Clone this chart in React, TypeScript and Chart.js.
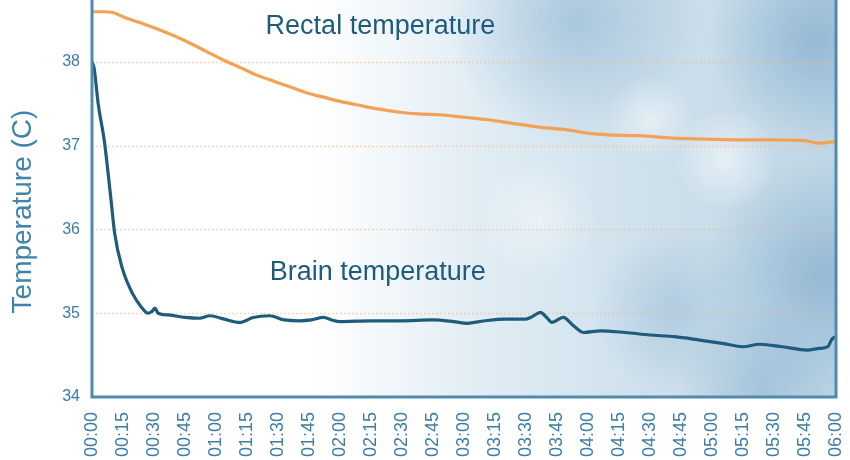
import React, { useEffect, useRef } from "react";
import { Chart, registerables } from "chart.js";

Chart.register(...registerables);

// X tick positions (minutes) and labels
const tickMinutes = [0, 15, 30, 45, 60, 75, 90, 105, 120, 135, 150, 165, 180, 195, 210, 225, 240, 255, 270, 285, 300, 315, 330, 345, 360];
const tickLabels = ["00:00", "00:15", "00:30", "00:45", "01:00", "01:15", "01:30", "01:45", "02:00", "02:15", "02:30", "02:45", "03:00", "03:15", "03:30", "03:45", "04:00", "04:15", "04:30", "04:45", "05:00", "05:15", "05:30", "05:45", "06:00"];
const yTicks = [34, 35, 36, 37, 38];
const yTitle = "Temperature (C)";

// Brain temperature series
const brainMinutes = [0, 1, 3, 6, 9, 11, 14.5, 19.5, 24, 27, 29, 30.5, 32, 37, 45, 52, 57, 64, 71.5, 78, 86, 93, 100.5, 106, 112, 116, 120, 135, 149, 165, 175, 181.5, 190, 200, 210, 213, 217, 220, 222.5, 228, 233, 238, 246, 258, 270, 282, 294, 305, 315, 323, 334, 346, 352, 356, 358, 360];
const brainTemps = [38.0, 37.93, 37.5, 37.05, 36.4, 35.95, 35.55, 35.24, 35.07, 35.0, 35.02, 35.06, 35.0, 34.98, 34.95, 34.94, 34.97, 34.93, 34.89, 34.95, 34.97, 34.92, 34.91, 34.92, 34.95, 34.92, 34.9, 34.91, 34.91, 34.92, 34.9, 34.88, 34.91, 34.93, 34.93, 34.96, 35.01, 34.95, 34.89, 34.95, 34.85, 34.77, 34.79, 34.77, 34.74, 34.72, 34.68, 34.64, 34.6, 34.63, 34.6, 34.56, 34.58, 34.6, 34.69, 34.72];

// Rectal temperature series
const rectalMinutes = [0, 6, 10, 15, 23, 31, 40, 47, 55, 63, 72, 80, 88, 96, 104, 112, 120, 128, 138, 149, 158, 168, 180, 192, 205, 217, 230, 240, 250, 265, 281, 297, 313, 330, 345, 352, 356, 360];
const rectalTemps = [38.6, 38.6, 38.59, 38.54, 38.47, 38.4, 38.31, 38.23, 38.13, 38.03, 37.93, 37.84, 37.77, 37.7, 37.63, 37.58, 37.53, 37.49, 37.44, 37.4, 37.38, 37.37, 37.34, 37.31, 37.26, 37.22, 37.19, 37.15, 37.13, 37.12, 37.09, 37.08, 37.07, 37.07, 37.06, 37.03, 37.04, 37.05];

// In-chart labels: [text, minute, temperature]
const seriesLabels: [string, number, number][] = [
  ["Rectal temperature", 84, 38.42],
  ["Brain temperature", 86, 35.48],
];

const AXIS_COLOR = "#4f8bb0";
const TICK_COLOR = "#3d7ca6";
const LABEL_COLOR = "#1f5b7d";
const FONT = "'Liberation Sans', Arial, Helvetica, sans-serif";

const decorPlugin = {
  id: "decor",
  beforeDatasetsDraw(chart: any) {
    const { ctx, chartArea: a, scales } = chart;
    const w = a.right - a.left;
    const h = a.bottom - a.top;
    ctx.save();
    ctx.beginPath();
    ctx.rect(a.left, a.top, w, h);
    ctx.clip();
    const lg = ctx.createLinearGradient(a.left, 0, a.right, 0);
    lg.addColorStop(0, "#ffffff");
    lg.addColorStop(0.3, "#ffffff");
    lg.addColorStop(0.5, "#e3eef5");
    lg.addColorStop(0.75, "#cee0ec");
    lg.addColorStop(1, "#bed6e5");
    ctx.fillStyle = lg;
    ctx.fillRect(a.left, a.top, w, h);
    const blobs: [number, number, number, string][] = [
      [0.65, 0.05, 0.17, "rgba(125,168,202,0.5)"],
      [0.97, 0.1, 0.14, "rgba(115,160,198,0.55)"],
      [0.98, 0.7, 0.16, "rgba(115,160,198,0.55)"],
      [0.78, 0.78, 0.11, "rgba(135,176,208,0.4)"],
      [0.9, 0.97, 0.11, "rgba(125,168,202,0.45)"],
      [0.85, 0.4, 0.07, "rgba(255,255,255,0.55)"],
      [0.75, 0.3, 0.06, "rgba(255,255,255,0.45)"],
      [0.6, 0.55, 0.08, "rgba(255,255,255,0.4)"],
    ];
    for (const [fx, fy, fr, col] of blobs) {
      const cx = a.left + fx * w;
      const cy = a.top + fy * h;
      const r = fr * w;
      const rg = ctx.createRadialGradient(cx, cy, 0, cx, cy, r);
      rg.addColorStop(0, col);
      rg.addColorStop(1, col.replace(/[\d.]+\)$/, "0)"));
      ctx.fillStyle = rg;
      ctx.fillRect(cx - r, cy - r, 2 * r, 2 * r);
    }
    // dotted gridlines
    ctx.strokeStyle = "rgba(240,185,130,0.55)";
    ctx.lineWidth = 1.5;
    ctx.setLineDash([2, 2]);
    for (const v of yTicks) {
      if (v === yTicks[0]) continue;
      const y = Math.round(scales.y.getPixelForValue(v)) + 0.5;
      ctx.beginPath();
      ctx.moveTo(a.left, y);
      ctx.lineTo(a.right, y);
      ctx.stroke();
    }
    ctx.restore();
  },
  afterDatasetsDraw(chart: any) {
    const { ctx, chartArea: a, scales } = chart;
    ctx.save();
    ctx.strokeStyle = AXIS_COLOR;
    ctx.lineWidth = 3;
    ctx.beginPath();
    ctx.moveTo(a.left, a.top);
    ctx.lineTo(a.left, a.bottom);
    ctx.lineTo(a.right, a.bottom);
    ctx.lineTo(a.right, a.top);
    ctx.stroke();
    ctx.fillStyle = LABEL_COLOR;
    ctx.font = `27px ${FONT}`;
    ctx.textAlign = "left";
    ctx.textBaseline = "middle";
    for (const [t, m, v] of seriesLabels) {
      ctx.fillText(t, scales.x.getPixelForValue(m), scales.y.getPixelForValue(v));
    }
    // y axis title
    ctx.translate(23, (a.top + a.bottom) / 2 + 13);
    ctx.rotate(-Math.PI / 2);
    ctx.textAlign = "center";
    ctx.fillStyle = "#3f82ab";
    ctx.font = `28px ${FONT}`;
    ctx.fillText(yTitle, 0, 0);
    ctx.restore();
  },
};

export default function App() {
  const ref = useRef<HTMLCanvasElement>(null);
  useEffect(() => {
    document.body.style.margin = "0";
    const chart = new Chart(ref.current!, {
      type: "line",
      data: {
        datasets: [
          {
            label: "Rectal temperature",
            data: rectalMinutes.map((m, i) => ({ x: m, y: rectalTemps[i] })),
            borderColor: "#f3a255",
            borderWidth: 3.2,
            pointRadius: 0,
            cubicInterpolationMode: "monotone",
          },
          {
            label: "Brain temperature",
            data: brainMinutes.map((m, i) => ({ x: m, y: brainTemps[i] })),
            borderColor: "#1f5c7b",
            borderWidth: 3.2,
            pointRadius: 0,
            cubicInterpolationMode: "monotone",
          },
        ],
      },
      options: {
        animation: false,
        responsive: false,
        layout: { padding: { left: 0, right: 14, top: 0, bottom: 0 } },
        plugins: { legend: { display: false }, tooltip: { enabled: false } },
        scales: {
          x: {
            type: "linear",
            min: 0,
            max: 360,
            grid: { display: false, drawTicks: false },
            border: { display: false },
            afterBuildTicks: (s: any) => {
              s.ticks = tickMinutes.map((v) => ({ value: v }));
            },
            afterFit: (s: any) => {
              s.height = 63;
              s.paddingLeft = 0;
              s.paddingRight = 0;
            },
            ticks: {
              autoSkip: false,
              minRotation: 90,
              maxRotation: 90,
              padding: 15,
              color: TICK_COLOR,
              font: { size: 18, family: FONT },
              callback: (_v: any, i: number) => tickLabels[i],
            },
          },
          y: {
            min: 34,
            max: 38.74,
            grid: { display: false, drawTicks: false },
            border: { display: false },
            afterBuildTicks: (s: any) => {
              s.ticks = yTicks.map((v) => ({ value: v }));
            },
            afterFit: (s: any) => {
              s.width = 92;
              s.paddingTop = 0;
              s.paddingBottom = 0;
            },
            ticks: {
              padding: 12,
              color: TICK_COLOR,
              font: { size: 16, family: FONT },
              callback: (v: any) => String(v),
            },
          },
        },
      },
      plugins: [decorPlugin],
    } as any);
    return () => chart.destroy();
  }, []);
  return (
    <div style={{ position: "absolute", left: 0, top: 0, width: 850, height: 460, background: "#fff" }}>
      <canvas ref={ref} width={850} height={460} style={{ display: "block" }} />
    </div>
  );
}
